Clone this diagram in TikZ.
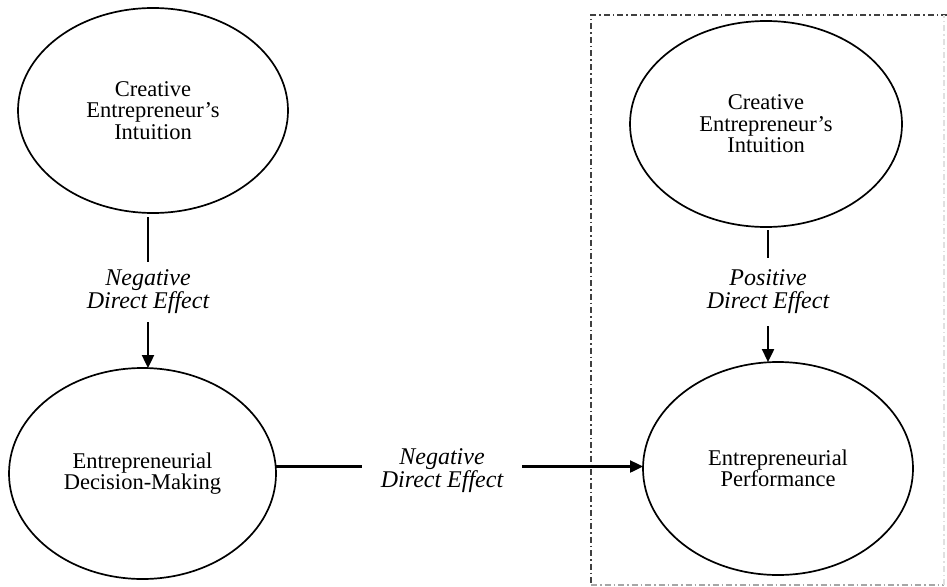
\documentclass[tikz,border=0pt]{standalone}
\usepackage{fontspec}
\setmainfont{Liberation Serif}
\usetikzlibrary{shapes.geometric,arrows.meta}
\tikzset{
  construct/.style={ellipse, draw=black, line width=1.7pt, inner sep=0pt, outer sep=0pt,
    align=center, font=\fontsize{22.5}{21.5}\selectfont},
  effectlabel/.style={align=center, inner xsep=0pt, font=\fontsize{24}{23}\selectfont\itshape},
  link/.style={line width=2.4pt},
  arrowlink/.style={line width=2.4pt, -{Triangle[length=13pt,width=12pt]}},
  frameline/.style={line width=1.3pt, dash pattern=on 6pt off 3pt on 1.5pt off 3pt}
}
\begin{document}
\begin{tikzpicture}[x=1pt,y=-1pt]
\useasboundingbox (0,0) rectangle (947,586);
% dash-dot frame
\coordinate (f1) at (591,15);
\coordinate (f2) at (947,15);
\coordinate (f3) at (944,585);
\coordinate (f4) at (591,585);
\draw[frameline, draw=black!75] (f2) -- (f1) -- (f4);
\draw[frameline, draw=black!35] (f4) -- (f3);
\draw[frameline, draw=black!12] (f3) -- (944,15);
% constructs
\node[construct, minimum width=270pt, minimum height=205pt] (tl) at (153,110.5) {Creative\\Entrepreneur’s\\Intuition};
\node[construct, minimum width=272pt, minimum height=206pt] (tr) at (766,124) {Creative\\Entrepreneur’s\\Intuition};
\node[construct, minimum width=267pt, minimum height=211pt] (bl) at (142.5,473.5) {Entrepreneurial\\Decision-Making};
\node[construct, minimum width=270pt, minimum height=213pt] (br) at (778,468.5) {Entrepreneurial\\Performance};
% labels
\node[effectlabel, inner ysep=8pt] (ll) at (148,292) {Negative\\Direct Effect};
\node[effectlabel, inner ysep=12pt] (rl) at (768,292) {Positive\\Direct Effect};
\node[effectlabel, inner ysep=2pt, inner xsep=19pt] (hl) at (442,471) {Negative\\Direct Effect};
% connectors
\draw[link] (ll.north |- tl.south) ++(0,4) -- (ll.north);
\draw[arrowlink] (ll.south) -- (ll.south |- bl.north);
\draw[link] (rl.north |- tr.south) ++(0,3) -- (rl.north);
\draw[arrowlink] (rl.south) -- (rl.south |- br.north);
\draw[link] (bl.east) ++(0,-7) coordinate (hs) -- (hs -| hl.west);
\draw[arrowlink] (hs -| hl.east) -- (hs -| br.west);
\end{tikzpicture}
\end{document}
